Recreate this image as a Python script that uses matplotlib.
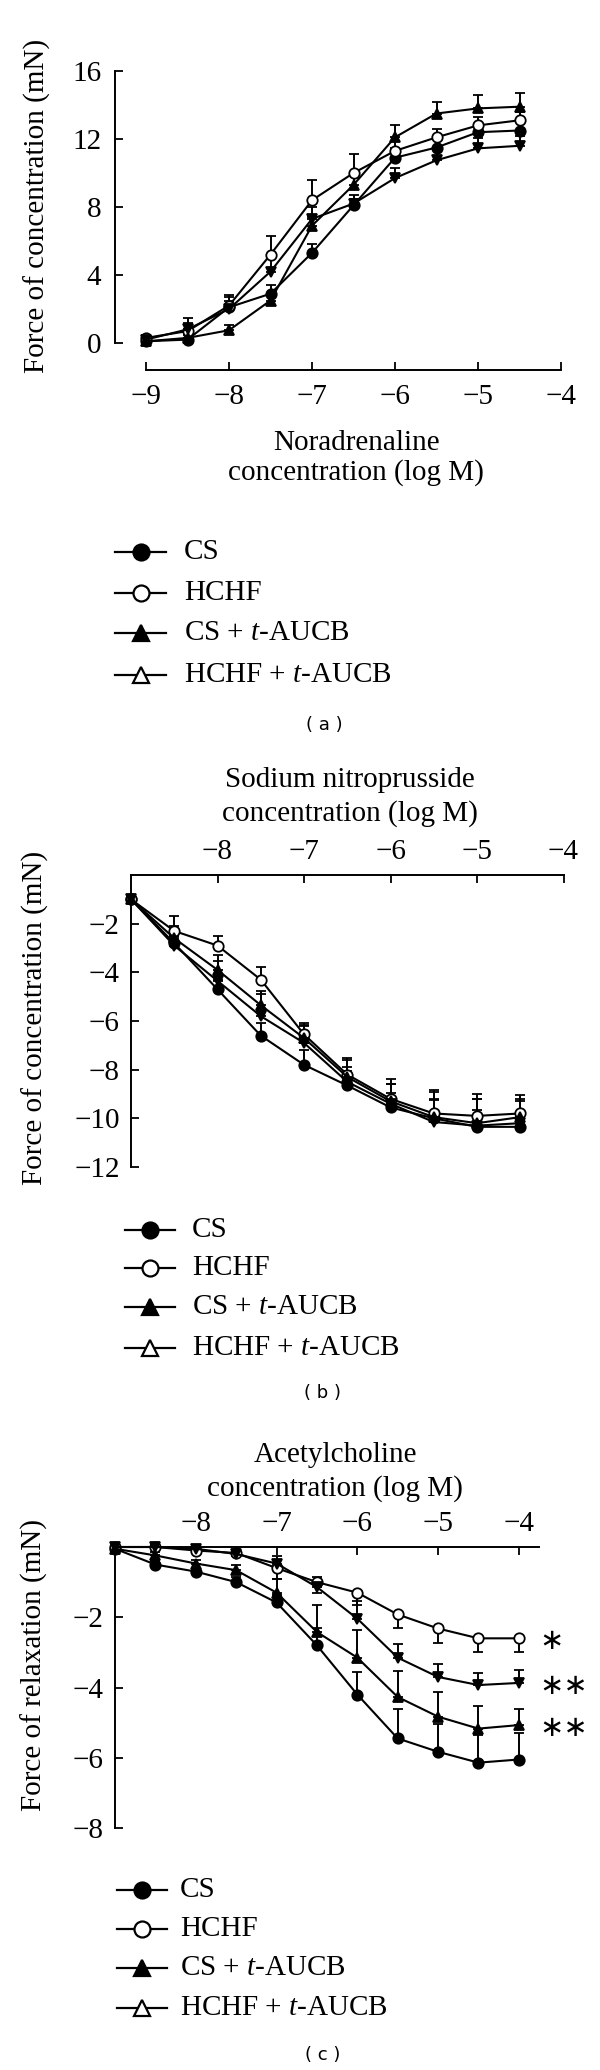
import matplotlib
matplotlib.use("Agg")
import matplotlib.pyplot as plt
from matplotlib.lines import Line2D

W, H = 600, 2070

# (a) noradrenaline, contraction
x_a = [-9.0, -8.5, -8.0, -7.5, -7.0, -6.5, -6.0, -5.5, -5.0, -4.5]
cs_a = [0.1, 0.2, 2.1, 2.9, 5.3, 8.1, 10.9, 11.5, 12.4, 12.5]
hchf_a = [0.3, 0.7, 2.2, 5.2, 8.4, 10.0, 11.3, 12.1, 12.8, 13.1]
cst_a = [0.1, 0.3, 0.75, 2.5, 6.9, 9.3, 12.1, 13.5, 13.8, 13.9]
hcht_a = [0.2, 0.8, 2.0, 4.2, 7.3, 8.2, 9.7, 10.75, 11.45, 11.6]
cs_a_err = [0.1, 0.3, 0.4, 0.5, 0.5, 0.4, 0.6, 0.5, 0.5, 0.5]
hchf_a_err = [0.2, 0.8, 0.6, 1.1, 1.2, 1.1, 0.6, 0.5, 0.5, 0.5]
cst_a_err = [0.1, 0.3, 0.3, 0.4, 0.5, 0.6, 0.7, 0.7, 0.8, 0.8]
hcht_a_err = [0.1, 0.4, 0.7, 0.8, 0.7, 0.5, 0.6, 0.6, 0.6, 0.6]

# (b) sodium nitroprusside
x_b = [-9.0, -8.5, -8.0, -7.5, -7.0, -6.5, -6.0, -5.5, -5.0, -4.5]
cs_b = [-1.0, -2.8, -4.7, -6.6, -7.8, -8.65, -9.55, -10.0, -10.35, -10.35]
hchf_b = [-1.0, -2.3, -2.9, -4.3, -6.55, -8.2, -9.2, -9.8, -9.9, -9.8]
cst_b = [-1.0, -2.6, -3.9, -5.35, -6.7, -8.3, -9.3, -9.95, -10.2, -9.95]
hcht_b = [-1.0, -2.9, -4.35, -5.8, -6.9, -8.5, -9.4, -10.15, -10.3, -10.2]
cs_b_err = [0.1, 0.3, 0.4, 0.5, 0.6, 0.6, 0.6, 0.8, 0.7, 0.6]
hchf_b_err = [0.1, 0.6, 0.4, 0.5, 0.4, 0.7, 0.8, 0.9, 0.9, 0.6]
cst_b_err = [0.1, 0.5, 0.6, 0.6, 0.5, 0.7, 0.7, 1.1, 1.0, 0.9]
hcht_b_err = [0.1, 0.4, 0.8, 0.9, 0.8, 0.6, 0.8, 0.9, 1.1, 0.9]

# (c) acetylcholine, relaxation
x_c = [-9.0, -8.5, -8.0, -7.5, -7.0, -6.5, -6.0, -5.5, -5.0, -4.5, -4.0]
cs_c = [-0.05, -0.5, -0.7, -1.0, -1.58, -2.8, -4.2, -5.45, -5.83, -6.14, -6.05]
hchf_c = [0.0, 0.0, -0.1, -0.17, -0.6, -1.0, -1.3, -1.92, -2.32, -2.6, -2.6]
cst_c = [-0.05, -0.24, -0.47, -0.66, -1.3, -2.42, -3.15, -4.27, -4.83, -5.17, -5.07]
hcht_c = [0.0, 0.0, -0.05, -0.2, -0.47, -1.14, -2.04, -3.15, -3.7, -3.93, -3.87]
cs_c_err = [0.05, 0.1, 0.1, 0.15, 0.2, 0.5, 0.65, 0.85, 0.8, 0.8, 0.75]
hchf_c_err = [0.0, 0.05, 0.05, 0.1, 0.3, 0.3, 0.35, 0.4, 0.4, 0.38, 0.38]
cst_c_err = [0.05, 0.1, 0.1, 0.15, 0.4, 0.78, 0.8, 0.75, 0.7, 0.65, 0.47]
hcht_c_err = [0.0, 0.05, 0.05, 0.1, 0.2, 0.3, 0.5, 0.38, 0.38, 0.33, 0.38]
stars_c = ["", "\u2217", "\u2217\u2217", "\u2217\u2217"]

group_labels = ["CS", "HCHF", r"CS + $t$-AUCB", r"HCHF + $t$-AUCB"]

plt.rcParams["font.family"] = ["Liberation Serif", "DejaVu Sans"]
plt.rcParams["mathtext.fontset"] = "custom"
plt.rcParams["mathtext.rm"] = "Liberation Serif"
plt.rcParams["mathtext.it"] = "Liberation Serif:italic"

FS = 21
# marker look in the plots (4th group is drawn with small down triangles)
PLOT_STYLES = [
    dict(marker="o", mfc="black", ms=7.5),
    dict(marker="o", mfc="white", ms=7.5),
    dict(marker="^", mfc="black", ms=6.5),
    dict(marker="v", mfc="black", ms=6.5),
]
LEGEND_MARKERS = [("o", "black"), ("o", "white"), ("^", "black"), ("^", "white")]


def fx(x):
    return x / W


def fy(y):
    return 1 - y / H


def make_axes(fig, left, top, right, bottom):
    return fig.add_axes([left / W, 1 - bottom / H, (right - left) / W, (bottom - top) / H])


def plot_groups(ax, x, ys, errs, down):
    for y, e, st, d in zip(ys, errs, PLOT_STYLES, down):
        zero = [0] * len(e)
        yerr = [e, zero] if d else [zero, e]
        ax.errorbar(x, y, yerr=yerr, color="black", lw=1.5, mec="black", mew=1.3,
                    capsize=3.5, capthick=1.8, elinewidth=1.4, **st)
    for art in ax.get_children():
        art.set_clip_on(False)


def style_ticks(ax, xpad, ypad):
    ax.tick_params(direction="in", length=6, width=1.3, labelsize=FS)
    ax.tick_params(axis="x", pad=xpad)
    ax.tick_params(axis="y", pad=ypad)
    for sp in ax.spines.values():
        sp.set_linewidth(1.4)


def draw_legend(fig, rows_y, x0, x1, xt):
    for label, (m, face), y in zip(group_labels, LEGEND_MARKERS, rows_y):
        fig.add_artist(Line2D([fx(x0), fx(x1)], [fy(y), fy(y)], color="black", lw=1.6))
        fig.add_artist(Line2D([fx((x0 + x1) / 2)], [fy(y)], marker=m, ms=11.5, mfc=face,
                              mec="black", mew=1.6, color="black"))
        fig.text(fx(xt), fy(y), label, fontsize=FS, ha="left", va="center")


def main():
    fig = plt.figure(figsize=(W / 100, H / 100), dpi=100)

    # ---- (a)
    ax = make_axes(fig, 146, 71, 561, 343)
    plot_groups(ax, x_a, [cs_a, hchf_a, cst_a, hcht_a],
                [cs_a_err, hchf_a_err, cst_a_err, hcht_a_err], [False] * 4)
    ax.set_xlim(-9, -4)
    ax.set_ylim(0, 16)
    ax.spines["left"].set_position(("outward", 31 * 0.72))
    ax.spines["bottom"].set_position(("outward", 27 * 0.72))
    ax.spines["top"].set_visible(False)
    ax.spines["right"].set_visible(False)
    ax.set_xticks([-9, -8, -7, -6, -5, -4])
    ax.set_yticks([0, 4, 8, 12, 16])
    style_ticks(ax, 10, 10)
    fig.text(fx(356), fy(458), "Noradrenaline\nconcentration (log M)", fontsize=FS,
             ha="center", va="center", linespacing=1.15)
    fig.text(fx(37), fy(206), "Force of concentration (mN)", fontsize=FS,
             rotation=90, ha="center", va="center")
    draw_legend(fig, [552, 593, 633, 675], 115, 166, 184)
    fig.text(fx(324), fy(725), "( a )", family="DejaVu Sans", fontsize=13,
             ha="center", va="center")

    # ---- (b)
    ax = make_axes(fig, 131, 875, 563.5, 1167)
    plot_groups(ax, x_b, [cs_b, hchf_b, cst_b, hcht_b],
                [cs_b_err, hchf_b_err, cst_b_err, hcht_b_err], [False] * 4)
    ax.set_xlim(-9, -4)
    ax.set_ylim(-12, 0)
    ax.xaxis.tick_top()
    ax.spines["bottom"].set_visible(False)
    ax.spines["right"].set_visible(False)
    ax.set_xticks([-8, -7, -6, -5, -4])
    ax.set_yticks([-2, -4, -6, -8, -10, -12])
    style_ticks(ax, 7, 8)
    fig.text(fx(350), fy(797), "Sodium nitroprusside\nconcentration (log M)", fontsize=FS,
             ha="center", va="center", linespacing=1.3)
    fig.text(fx(35), fy(1018), "Force of concentration (mN)", fontsize=FS,
             rotation=90, ha="center", va="center")
    draw_legend(fig, [1230, 1268, 1307, 1348], 125, 175, 192)
    fig.text(fx(323), fy(1393), "( b )", family="DejaVu Sans", fontsize=13,
             ha="center", va="center")

    # ---- (c)
    ax = make_axes(fig, 115, 1547, 539, 1828)
    ys = [cs_c, hchf_c, cst_c, hcht_c]
    plot_groups(ax, x_c, ys, [cs_c_err, hchf_c_err, cst_c_err, hcht_c_err],
                [False, True, False, False])
    ax.set_xlim(-9, -3.75)
    ax.set_ylim(-8, 0)
    ax.xaxis.tick_top()
    ax.spines["bottom"].set_visible(False)
    ax.spines["right"].set_visible(False)
    ax.set_xticks([-8, -7, -6, -5, -4])
    ax.set_yticks([-2, -4, -6, -8])
    style_ticks(ax, 7, 8)
    for y, star in zip(ys, stars_c):
        if star:
            ax.annotate(star, xy=(x_c[-1], y[-1]), xytext=(20, -3), textcoords="offset pixels",
                        fontsize=FS, ha="left", va="center", family=["DejaVu Sans"])
    fig.text(fx(335), fy(1472), "Acetylcholine\nconcentration (log M)", fontsize=FS,
             ha="center", va="center", linespacing=1.3)
    fig.text(fx(34), fy(1665), "Force of relaxation (mN)", fontsize=FS,
             rotation=90, ha="center", va="center")
    draw_legend(fig, [1890, 1929, 1968, 2008], 117, 167, 180)
    fig.text(fx(323), fy(2055), "( c )", family="DejaVu Sans", fontsize=13,
             ha="center", va="center")

    fig.savefig("out.png", dpi=100)


if __name__ == "__main__":
    main()
